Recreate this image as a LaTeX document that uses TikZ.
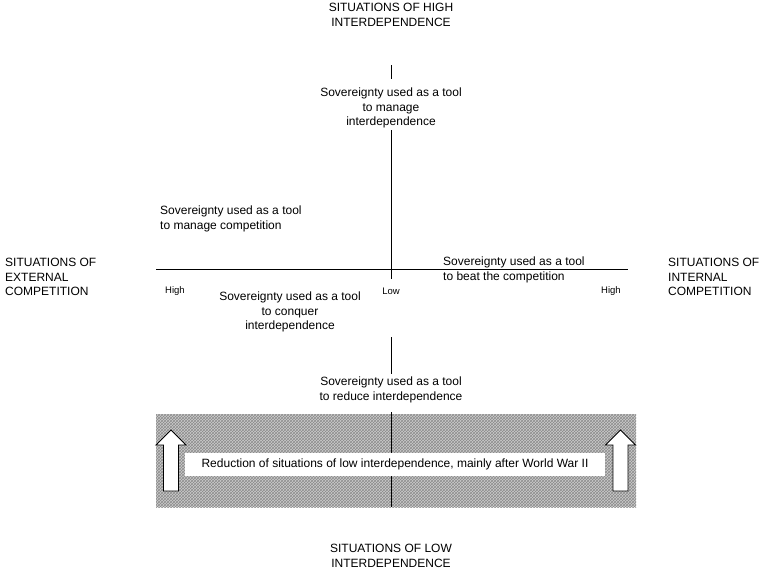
\documentclass[tikz,border=0pt]{standalone}
\usepackage{fontspec}
\setmainfont{Liberation Sans}
\usetikzlibrary{patterns}
\begin{document}
\begin{tikzpicture}[x=1pt,y=-1pt,
  lbl/.style={font=\fontsize{12}{14.5}\selectfont, inner sep=0pt, align=center},
  lblL/.style={font=\fontsize{12}{14.5}\selectfont, inner sep=0pt, align=left},
  tick/.style={font=\fontsize{9.5}{10}\selectfont, inner sep=0pt},
  axis/.style={draw=black, line width=0.8pt},
  uparrow/.style={draw=black, fill=white, line width=0.9pt, line join=miter}]
\useasboundingbox (0,0) rectangle (770,571);
% shaded band
\fill[black!20] (156,414) rectangle (636,507);
\fill[pattern=crosshatch, pattern color=black!45] (156,414) rectangle (636,507);
% axes
\coordinate (v0) at (391,65);
\coordinate (v1) at (391,79);
\coordinate (v2) at (391,130);
\coordinate (v3) at (391,279);
\coordinate (v4) at (391,337);
\coordinate (v5) at (391,374);
\coordinate (v6) at (391,412);
\coordinate (v7) at (391,507);
\coordinate (hL) at (156,269);
\coordinate (hR) at (628,269);
\draw[axis] (v0) -- (v1);
\draw[axis] (v2) -- (v3);
\draw[axis] (v4) -- (v5);
\draw[axis] (v6) -- (v7);
\draw[axis] (hL) -- (hR);
% block arrows
\draw[uparrow] (171,430) -- (186,445) -- (178.5,445) -- (178.5,491) -- (163.5,491) -- (163.5,445) -- (156,445) -- cycle;
\draw[uparrow] (620.5,430) -- (635.5,445) -- (628,445) -- (628,491) -- (613,491) -- (613,445) -- (605.5,445) -- cycle;
% white label box
\node[fill=white, minimum width=420pt, minimum height=23pt, inner sep=0pt,
  font=\fontsize{12}{14.5}\selectfont] (red) at (395,464.5)
  {Reduction of situations of low interdependence, mainly after World War II};
% texts
\node[lbl] (top) at (391,15) {SITUATIONS OF HIGH\\INTERDEPENDENCE};
\node[lbl] (bot) at (391,556) {SITUATIONS OF LOW\\INTERDEPENDENCE};
\node[lblL, anchor=west] (ext) at (5,277) {SITUATIONS OF\\EXTERNAL\\COMPETITION};
\node[lblL, anchor=west] (int) at (668,277) {SITUATIONS OF\\INTERNAL\\COMPETITION};
\node[lbl] (manint) at (391,108) {Sovereignty used as a tool\\to manage\\interdependence};
\node[lblL, anchor=west] (mancomp) at (160,219) {Sovereignty used as a tool\\to manage competition};
\node[lblL, anchor=west] (beat) at (443,270) {Sovereignty used as a tool\\to beat the competition};
\node[lbl] (conq) at (290,312) {Sovereignty used as a tool\\to conquer\\interdependence};
\node[lbl] (redu) at (391,390) {Sovereignty used as a tool\\to reduce interdependence};
\node[tick] (hiL) at (175,291) {High};
\node[tick] (lo) at (391,291) {Low};
\node[tick] (hiR) at (611,291) {High};
\end{tikzpicture}
\end{document}
